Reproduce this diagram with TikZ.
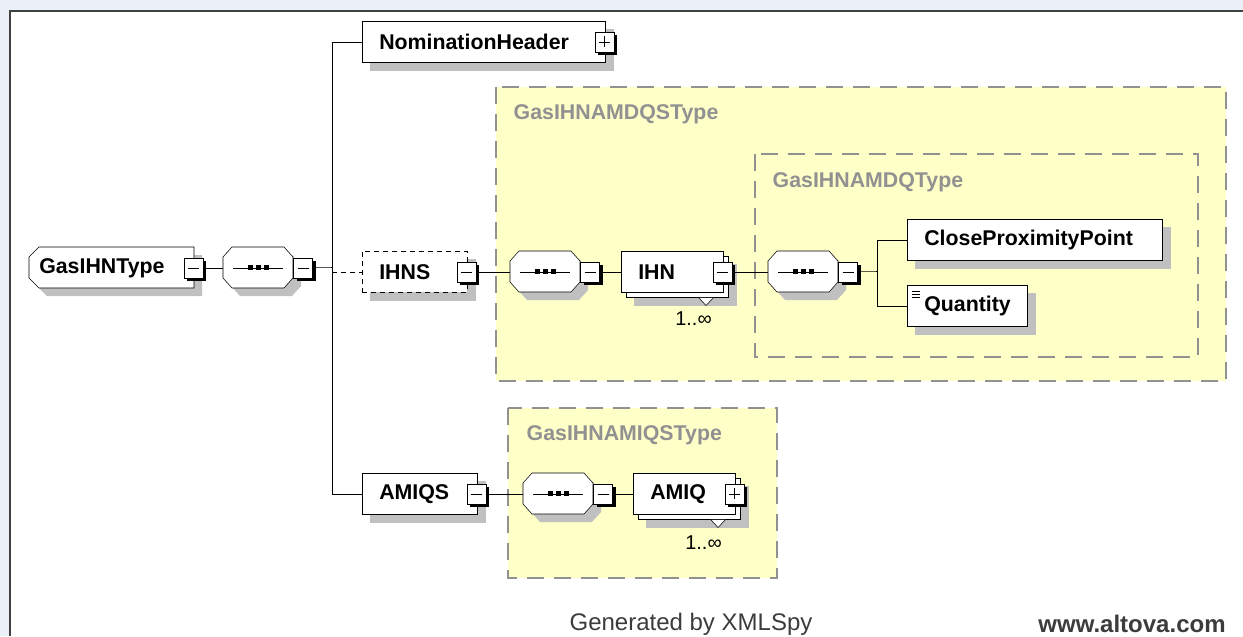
\documentclass[tikz,border=0pt]{standalone}
\usepackage{fontspec}
\setmainfont{Liberation Sans}

\definecolor{panelbg}{RGB}{235,239,247}
\definecolor{framegray}{RGB}{64,64,64}
\definecolor{typefill}{RGB}{255,255,200}
\definecolor{typeline}{RGB}{145,145,145}
\definecolor{shadegray}{RGB}{192,192,192}
\definecolor{footgray}{RGB}{60,60,60}

\pgfdeclarelayer{back}
\pgfdeclarelayer{shadows}
\pgfsetlayers{back,shadows,main}

\tikzset{every picture/.style={line width=1.1pt}}
\tikzset{
  elem/.style={draw, fill=white, anchor=north west, inner xsep=12.75pt, inner ysep=0pt,
    minimum height=30.75pt, text width=#1, align=left,
    font=\fontsize{16}{18}\selectfont\bfseries},
  seqbox/.style={anchor=north west, inner sep=0pt, minimum width=52.5pt, minimum height=30.75pt},
  tglbox/.style={draw, fill=white, inner sep=0pt, minimum width=14.25pt, minimum height=15pt},
  typebox/.style={draw=typeline, line width=1.5pt, dash pattern=on 12.75pt off 7.5pt},
  typelbl/.style={anchor=west, text=typeline, font=\fontsize{16}{18}\selectfont\bfseries},
  mult/.style={font=\fontsize{15}{17}\selectfont},
  foot/.style={text=footgray, font=\fontsize{18}{20}\selectfont},
  opt/.style={dash pattern=on 3.75pt off 3pt},
}

% grey shadow under a box
\newcommand\boxshade[1]{%
  \begin{pgfonlayer}{shadows}
    \fill[shadegray] ([shift={(8,8)}]#1.north west) rectangle ([shift={(8,8)}]#1.south east);
  \end{pgfonlayer}}

% second sheet of a repeated element, with its notch
\newcommand\backcopy[1]{%
  \begin{pgfonlayer}{shadows}
    \fill[shadegray] ([shift={(13,13)}]#1.north west) rectangle ([shift={(13,13)}]#1.south east);
    \filldraw[fill=white] ([shift={(5,5)}]#1.north west) rectangle ([shift={(5,5)}]#1.south east);
  \end{pgfonlayer}
  \filldraw[fill=white] ([shift={(-25,5)}]#1.south east) -- ([shift={(-10,5)}]#1.south east) -- ([shift={(-17.5,13)}]#1.south east) -- cycle;}

% toggle: name, anchor, x offset, sign (0 minus, 1 plus)
\newcommand\tgl[4]{%
  \coordinate (#1c) at ([shift={(#3,0)}]#2);
  \fill ([shift={(-6.5,-7)}]#1c) rectangle ([shift={(12.5,13)}]#1c);
  \node[tglbox] (#1) at (#1c) {};
  \draw ([shift={(-5.5,0)}]#1.center) -- ([shift={(5.5,0)}]#1.center);
  \ifnum#4=1 \draw ([shift={(0,-5.5)}]#1.center) -- ([shift={(0,5.5)}]#1.center);\fi}

% sequence compositor: name, north west corner
\newcommand\seqc[2]{%
  \node[seqbox] (#1) at (#2) {};
  \begin{pgfonlayer}{shadows}
    \fill[shadegray] ([shift={(8,8)}]#1.north west) ++(9,0) -- ++(52,0) -- ++(9,10) -- ++(0,21) -- ++(-9,10) -- ++(-52,0) -- ++(-9,-10) -- ++(0,-21) -- cycle;
  \end{pgfonlayer}
  \filldraw[fill=white] (#1.north west) ++(9,0) -- ++(52,0) -- ++(9,10) -- ++(0,21) -- ++(-9,10) -- ++(-52,0) -- ++(-9,-10) -- ++(0,-21) -- cycle;
  \draw ([shift={(-25,0)}]#1.center) -- ([shift={(25,0)}]#1.center);
  \foreach \d in {-8,0,8}
    \fill ([shift={(\d-2.5,-2.5)}]#1.center) rectangle ([shift={(\d+2.5,2.5)}]#1.center);
  \tgl{#1T}{#1.east}{9.5}{0}}

\begin{document}
\begin{tikzpicture}[x=0.75pt,y=0.75pt,yscale=-1,xscale=1]
\useasboundingbox (0,0) rectangle (1243,636);

\begin{pgfonlayer}{back}
	% panel
	\fill[panelbg] (0,0) rectangle (1243,636);
	\fill[white] (10,11) rectangle (1243,636);
	\draw[framegray, line width=2pt] (10,636) -- (10,11) -- (1243,11);
	% complex types
	\filldraw[typebox, fill=typefill] (496,87) rectangle (1226,381);
	\draw[typebox] (755,154) rectangle (1198,357);
	\filldraw[typebox, fill=typefill] (508,408) rectangle (777,578);
\end{pgfonlayer}

% Text Node
\node[typelbl] (tqs) at (509,114) {GasIHNAMDQSType};
\node[typelbl] (tq) at (768,182) {GasIHNAMDQType};
\node[typelbl] (tiqs) at (522,435) {GasIHNAMIQSType};

% root
\begin{pgfonlayer}{shadows}
	\fill[shadegray] (47,255) -- (202,255) -- (202,296) -- (47,296) -- (37,286) -- (37,265) -- cycle;
\end{pgfonlayer}
\filldraw[fill=white] (39,247) -- (194,247) -- (194,288) -- (39,288) -- (29,278) -- (29,257) -- cycle;
\node[elem=108.75pt, draw=none, fill=none, inner xsep=7.5pt] (gt) at (29,247) {GasIHNType};
\tgl{gtT}{gt.east}{-1}{0}

\seqc{s1}{223,247}

% children of the root sequence
\node[elem=156.75pt] (nh) at (362,21) {NominationHeader};
\boxshade{nh}
\tgl{nhT}{nh.east}{-1}{1}

\node[elem=53.25pt, opt] (ihns) at (362,251) {IHNS};
\boxshade{ihns}
\tgl{ihnsT}{ihns.east}{-1}{0}

\node[elem=60.75pt] (amiqs) at (362,473) {AMIQS};
\boxshade{amiqs}
\tgl{amiqsT}{amiqs.east}{-1}{0}

% IHNS content
\seqc{s2}{510,251}
\node[elem=51pt] (ihn) at (621,251) {IHN};
\backcopy{ihn}
\tgl{ihnT}{ihn.east}{-1}{0}
\node[mult] (ihnM) at ([shift={(-30,26)}]ihn.south east) {1..∞};

\seqc{s3}{768,251}
\node[elem=165.75pt] (cpp) at (907,219) {CloseProximityPoint};
\boxshade{cpp}
\node[elem=64.5pt] (qty) at (907,285) {Quantity};
\boxshade{qty}
\foreach \k in {0,3,6}
	\draw[line width=0.6pt] ([shift={(5,6+\k)}]qty.north west) -- ++(8,0);

% AMIQS content
\seqc{s4}{523,473}
\node[elem=51pt] (amiq) at (633,473) {AMIQ};
\backcopy{amiq}
\tgl{amiqT}{amiq.east}{-1}{1}
\node[mult] (amiqM) at ([shift={(-32,28)}]amiq.south east) {1..∞};

% connectors
\coordinate (fork) at (332,267.5);
\coordinate (split) at (877,271.5);
\draw (gtT.east) -- (s1.west);
\draw (s1T.east) -- (fork);
\draw (fork) |- (nh.west);
\draw (fork) |- (amiqs.west);
\draw[opt] (fork |- ihns.west) -- (ihns.west);
\draw (ihnsT.east) -- (s2.west);
\draw (s2T.east) -- (ihn.west);
\draw (ihnT.east) -- (s3.west);
\draw (s3T.east) -- (split);
\draw (split) |- (cpp.west);
\draw (split) |- (qty.west);
\draw (amiqsT.east) -- (s4.west);
\draw (s4T.east) -- (amiq.west);

% Text Node
\node[foot] (gen) at (691,624) {Generated by XMLSpy};
\node[foot, font=\fontsize{18}{20}\selectfont\bfseries] (www) at (1132,624) {www.altova.com};

\end{tikzpicture}
\end{document}
